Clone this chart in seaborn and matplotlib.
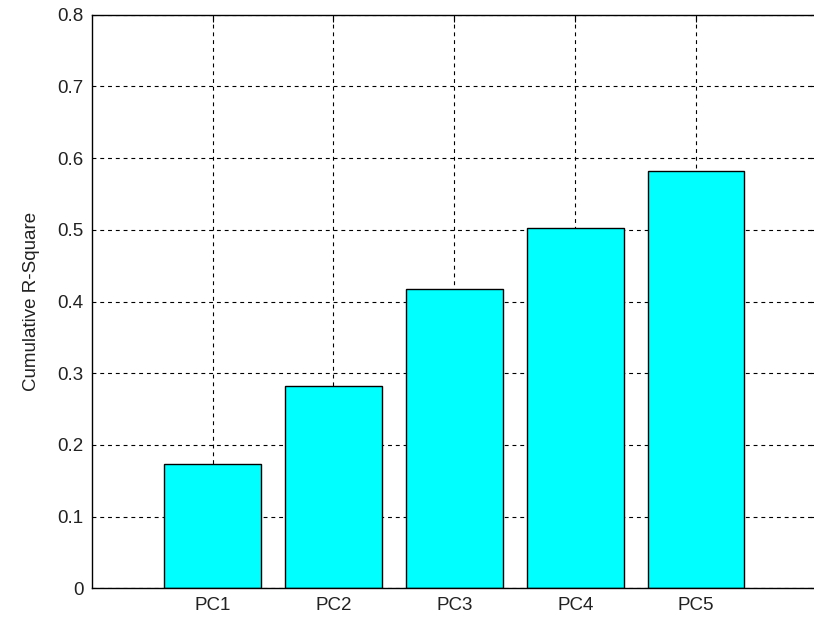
import pandas as pd
import seaborn as sns
import matplotlib.pyplot as plt

# Data
components = ['PC1', 'PC2', 'PC3', 'PC4', 'PC5']
cum_r2 = [0.174, 0.282, 0.417, 0.503, 0.582]
y_ticks = [0, 0.1, 0.2, 0.3, 0.4, 0.5, 0.6, 0.7, 0.8]
y_tick_labels = ['0', '0.1', '0.2', '0.3', '0.4', '0.5', '0.6', '0.7', '0.8']

df = pd.DataFrame({'component': components, 'r2': cum_r2})

sns.set_style('white')
plt.rcParams['font.family'] = ['Liberation Sans', 'DejaVu Sans']

fig = plt.figure(figsize=(8.14, 6.2), dpi=100)
# axes run slightly past the right edge, as in the cropped reference
ax = fig.add_axes([0.1127, 0.051, 0.891, 0.9253])

sns.barplot(data=df, x='component', y='r2', color='#00ffff', saturation=1,
            width=0.8, edgecolor='black', linewidth=1.0, ax=ax)

ax.set_xlim(-1, 5)
ax.set_ylim(0, 0.8)
ax.set_yticks(y_ticks)
ax.set_yticklabels(y_tick_labels)

ax.set_axisbelow(True)
ax.grid(True, color='black', linestyle=(0, (3.5, 3.5)), linewidth=0.8)

for side in ax.spines.values():
    side.set_color('black')
    side.set_linewidth(1.0)

ax.tick_params(direction='in', length=5, width=0.8, colors='black',
               top=True, right=True, labelsize=13.5, pad=6)
for lbl in ax.get_xticklabels() + ax.get_yticklabels():
    lbl.set_color('#222222')

ax.set_xlabel('')
ax.set_ylabel('Cumulative R-Square', fontsize=13.5, color='#222222', labelpad=12)

fig.savefig('out.png', dpi=100)
